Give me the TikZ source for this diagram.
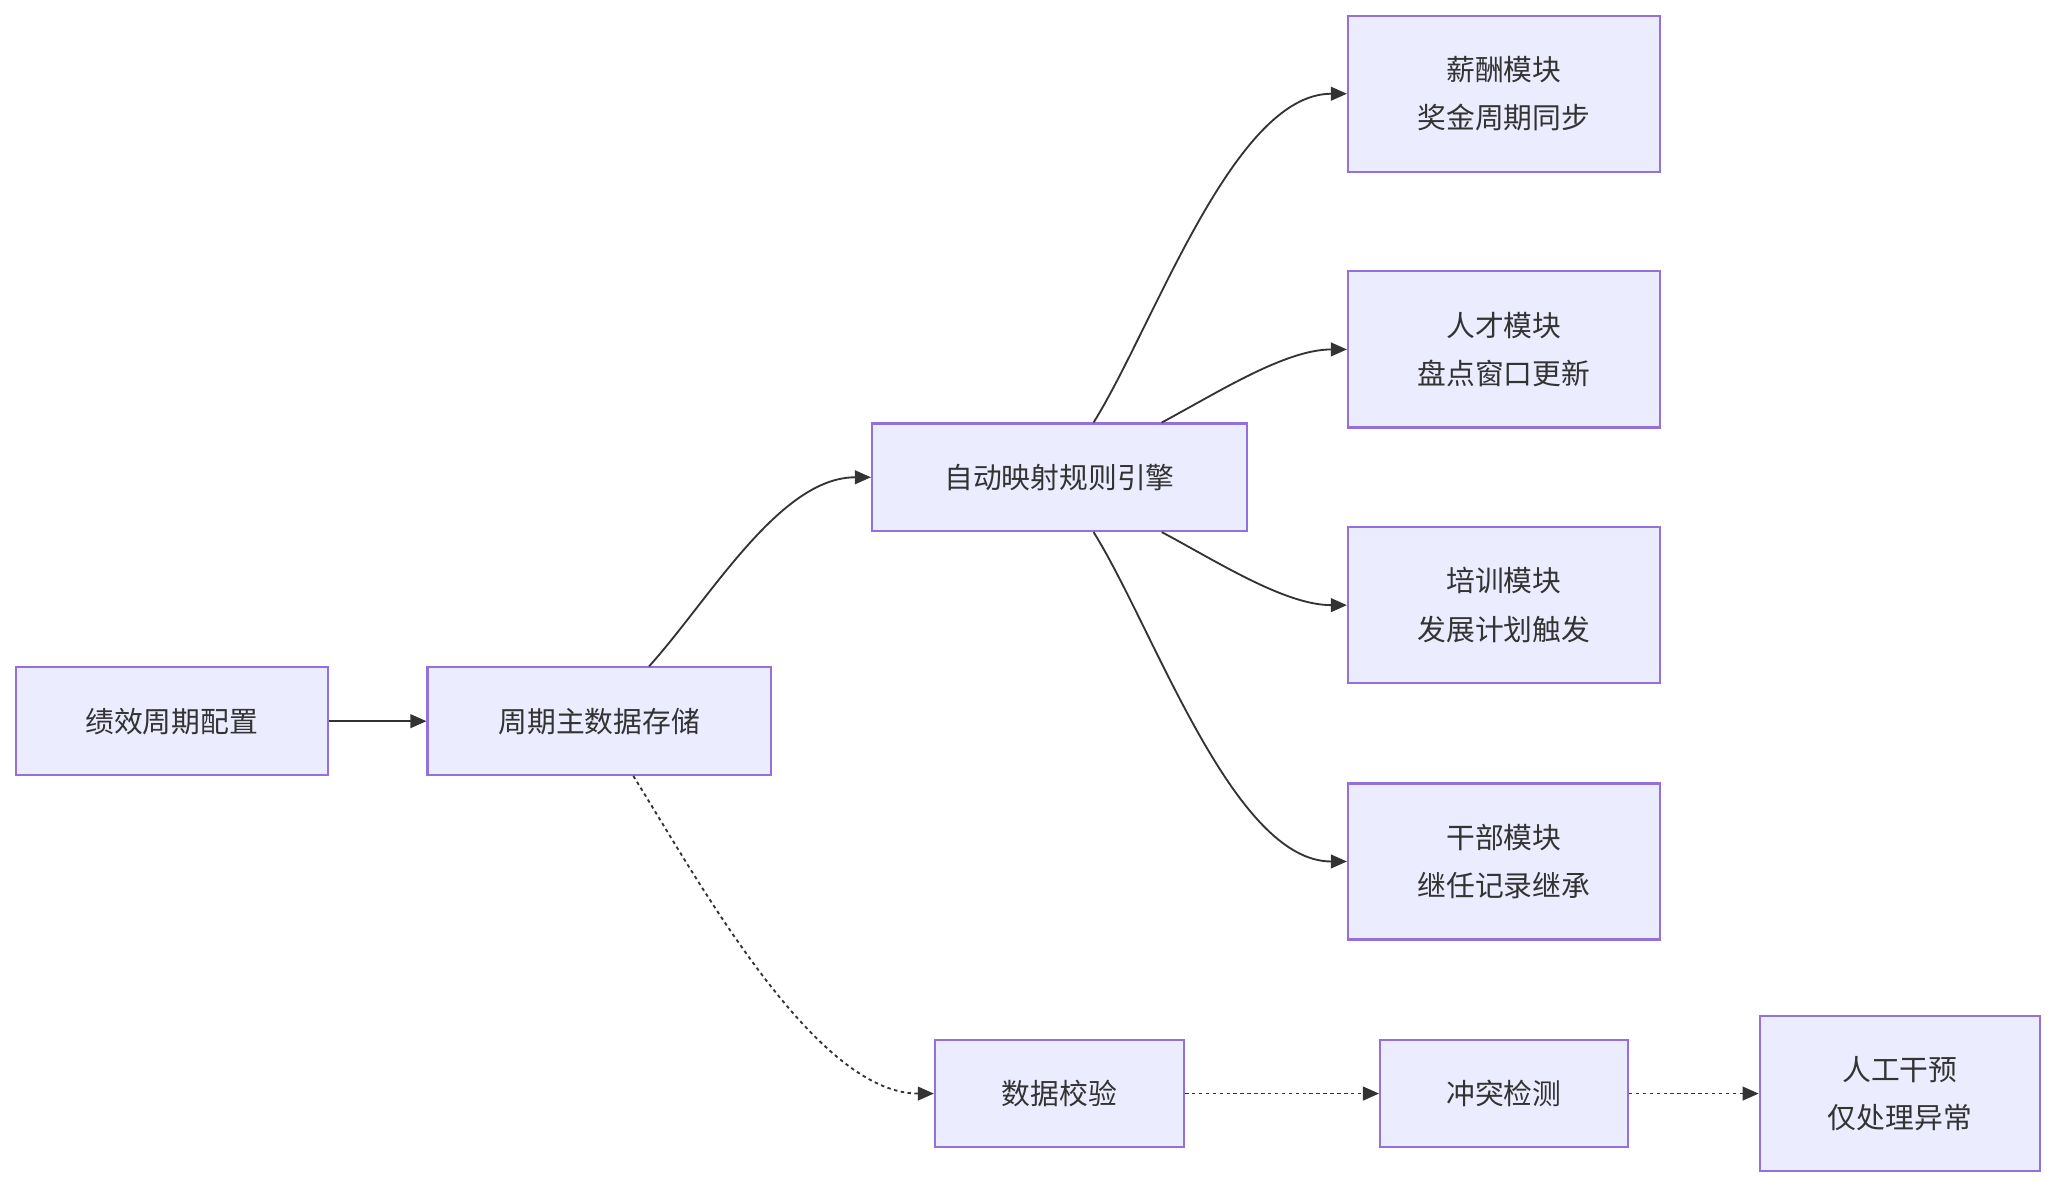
\documentclass[tikz,border=0pt]{standalone}
\usepackage{fontspec}
\setmainfont{Noto Sans CJK SC}
\usetikzlibrary{arrows.meta}
\definecolor{boxfill}{HTML}{ECECFF}
\definecolor{boxline}{HTML}{9370DB}
\definecolor{ink}{HTML}{333333}
\begin{document}
\begin{tikzpicture}[x=0.02cm,y=-0.02cm,
	box/.style={draw=boxline, fill=boxfill, line width=0.9pt, text=ink, align=center,
		font=\fontsize{12.5}{21}\selectfont, inner sep=0pt},
	flow/.style={draw=ink, line width=0.8pt, -{Triangle[length=7pt,width=6pt]}},
	check/.style={flow, dash pattern=on 1.5pt off 1.5pt}]
	\useasboundingbox (0,0) rectangle (1568,906);
	
	\node[box, minimum width=238*0.02cm, minimum height=82*0.02cm] (perf) at (131,550) {绩效周期配置};
	\node[box, minimum width=262*0.02cm, minimum height=82*0.02cm] (store) at (457,550) {周期主数据存储};
	\node[box, minimum width=286*0.02cm, minimum height=82*0.02cm] (engine) at (808,364) {自动映射规则引擎};
	
	\node[box, minimum width=238*0.02cm, minimum height=119*0.02cm] (salary) at (1147,71.5) {薪酬模块\\奖金周期同步};
	\node[box, minimum width=238*0.02cm, minimum height=119*0.02cm] (talent) at (1147,266.5) {人才模块\\盘点窗口更新};
	\node[box, minimum width=238*0.02cm, minimum height=119*0.02cm] (train) at (1147,461.5) {培训模块\\发展计划触发};
	\node[box, minimum width=238*0.02cm, minimum height=119*0.02cm] (cadre) at (1147,657) {干部模块\\继任记录继承};
	
	\node[box, minimum width=190*0.02cm, minimum height=82*0.02cm] (valid) at (808,834) {数据校验};
	\node[box, minimum width=189*0.02cm, minimum height=82*0.02cm] (conflict) at (1147,834) {冲突检测};
	\node[box, minimum width=214*0.02cm, minimum height=118*0.02cm] (manual) at (1449,834) {人工干预\\仅处理异常};
	
	% main flow
	\draw[flow] (perf) -- (store);
	\draw[flow] ([xshift=0.76cm]store.north) to[out=48, in=180, looseness=0.8] (engine.west);
	\draw[flow] ([xshift=0.52cm]engine.north) to[out=58, in=180, looseness=0.7] (salary.west);
	\draw[flow] ([xshift=1.56cm]engine.north) to[out=28, in=180, looseness=0.8] (talent.west);
	\draw[flow] ([xshift=1.56cm]engine.south) to[out=-28, in=180, looseness=0.8] (train.west);
	\draw[flow] ([xshift=0.52cm]engine.south) to[out=-58, in=180, looseness=0.7] (cadre.west);
	
	% checks
	\draw[check] ([xshift=0.52cm]store.south) to[out=-58, in=180, looseness=0.7] (valid.west);
	\draw[check] (valid) -- (conflict);
	\draw[check] (conflict) -- (manual);
\end{tikzpicture}
\end{document}
